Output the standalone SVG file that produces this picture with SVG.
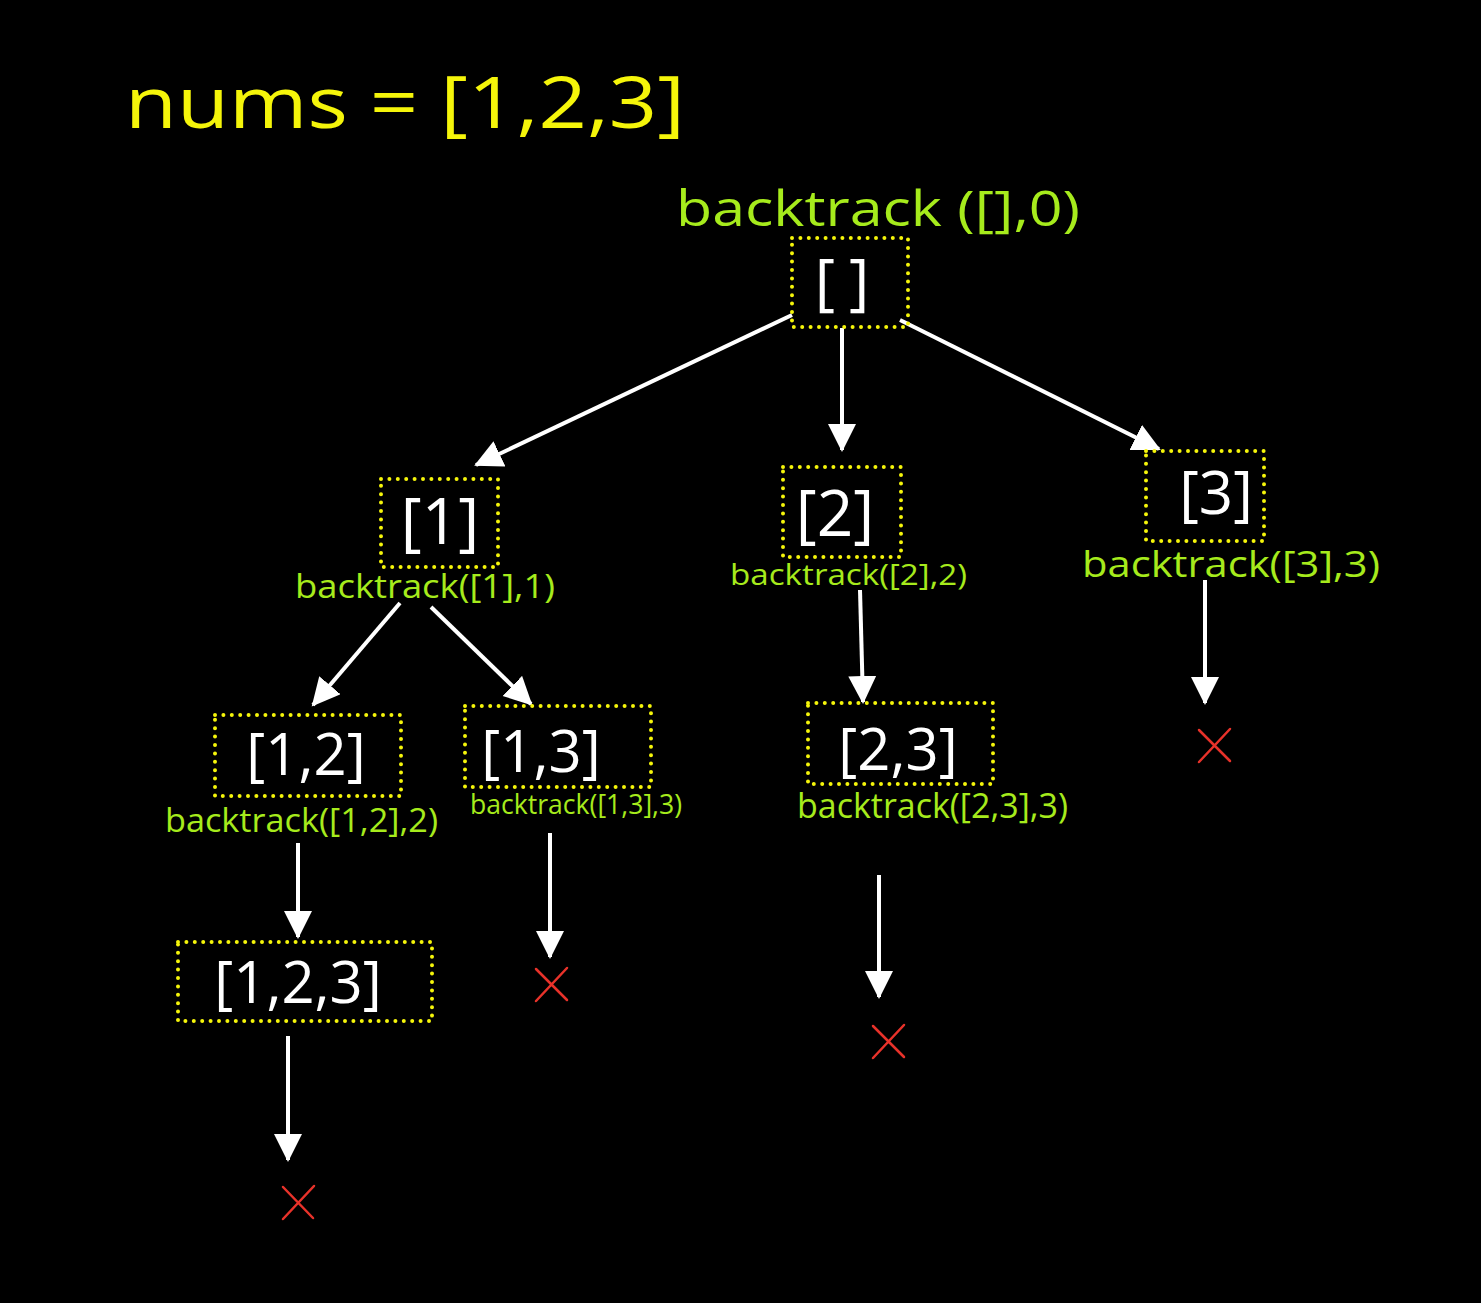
<svg xmlns="http://www.w3.org/2000/svg" width="1481" height="1303" viewBox="0 0 1481 1303">
<defs>
<style>
.box{fill:none;stroke:#f5f50a;stroke-width:4;stroke-dasharray:0 8.4;stroke-linecap:round}
.node{fill:#ffffff;font-family:"Open Sans","Liberation Sans",sans-serif;text-anchor:middle}
.lbl{fill:#a6eb1c;font-family:"Open Sans","Liberation Sans",sans-serif}
.title{fill:#f5f50a;font-family:"Open Sans","Liberation Sans",sans-serif}
.edge{stroke:#ffffff;stroke-width:4;fill:none;marker-end:url(#ah)}
.x{stroke:#e8322a;stroke-width:2.5;fill:none;stroke-linecap:round}
</style>
<marker id="ah" markerUnits="userSpaceOnUse" markerWidth="30" markerHeight="30" refX="26" refY="14" orient="auto" viewBox="0 0 30 30">
<path d="M0,0 L28,14 L0,28 z" fill="#ffffff"/>
</marker>
</defs>
<rect x="0" y="0" width="1481" height="1303" fill="#000000"/>
<text class="title" x="125" y="128" font-size="72" textLength="560" lengthAdjust="spacingAndGlyphs">nums = [1,2,3]</text>

<g id="connectors">
<line class="edge" x1="792" y1="315" x2="476" y2="465"/>
<line class="edge" x1="842" y1="328" x2="842" y2="450"/>
<line class="edge" x1="900" y1="320" x2="1159" y2="449"/>
<line class="edge" x1="400" y1="603" x2="313" y2="705"/>
<line class="edge" x1="431" y1="607" x2="531" y2="704"/>
<line class="edge" x1="860" y1="590" x2="863" y2="702"/>
<line class="edge" x1="1205" y1="580" x2="1205" y2="703"/>
<line class="edge" x1="298" y1="843" x2="298" y2="937"/>
<line class="edge" x1="550" y1="833" x2="550" y2="957"/>
<line class="edge" x1="879" y1="875" x2="879" y2="997"/>
<line class="edge" x1="288" y1="1036" x2="288" y2="1160"/>
</g>

<g id="root">
<text class="lbl" x="676" y="226" font-size="50" textLength="404" lengthAdjust="spacingAndGlyphs">backtrack ([],0)</text>
<rect class="box" x="792" y="238" width="116" height="89"/>
<text class="node" x="849" y="304" font-size="62" letter-spacing="14">[]</text>
</g>

<g id="n1">
<rect class="box" x="381" y="479" width="117" height="88"/>
<text class="node" x="440" y="544" font-size="64">[1]</text>
<text class="lbl" x="295" y="598" font-size="32" textLength="260" lengthAdjust="spacingAndGlyphs">backtrack([1],1)</text>
</g>

<g id="n2">
<rect class="box" x="783" y="467" width="118" height="90"/>
<text class="node" x="835" y="536" font-size="64">[2]</text>
<text class="lbl" x="730" y="585" font-size="30" textLength="237" lengthAdjust="spacingAndGlyphs">backtrack([2],2)</text>
</g>

<g id="n3">
<rect class="box" x="1146" y="451" width="118" height="90"/>
<text class="node" x="1216" y="514" font-size="60">[3]</text>
<text class="lbl" x="1082" y="577" font-size="36" textLength="298" lengthAdjust="spacingAndGlyphs">backtrack([3],3)</text>
</g>

<g id="n12">
<rect class="box" x="215" y="715" width="186" height="81"/>
<text class="node" x="306" y="775" font-size="58">[1,2]</text>
<text class="lbl" x="165" y="832" font-size="32" textLength="273" lengthAdjust="spacingAndGlyphs">backtrack([1,2],2)</text>
</g>

<g id="n13">
<rect class="box" x="465" y="706" width="186" height="81"/>
<text class="node" x="541" y="772" font-size="58">[1,3]</text>
<text class="lbl" x="470" y="814" font-size="28" textLength="212" lengthAdjust="spacingAndGlyphs">backtrack([1,3],3)</text>
</g>

<g id="n23">
<rect class="box" x="808" y="703" width="185" height="81"/>
<text class="node" x="898" y="770" font-size="58">[2,3]</text>
<text class="lbl" x="797" y="818" font-size="34" textLength="271" lengthAdjust="spacingAndGlyphs">backtrack([2,3],3)</text>
</g>

<g id="n123">
<rect class="box" x="178" y="942" width="254" height="79"/>
<text class="node" x="298" y="1003" font-size="58">[1,2,3]</text>
</g>

<g id="x1"><path class="x" d="M283,1187 L313,1218 M314,1186 L283,1219"/></g>
<g id="x2"><path class="x" d="M536,969 L567,1000 M567,968 L536,1001"/></g>
<g id="x3"><path class="x" d="M873,1026 L904,1057 M904,1025 L873,1058"/></g>
<g id="x4"><path class="x" d="M1199,730 L1230,761 M1230,729 L1199,762"/></g>
</svg>
